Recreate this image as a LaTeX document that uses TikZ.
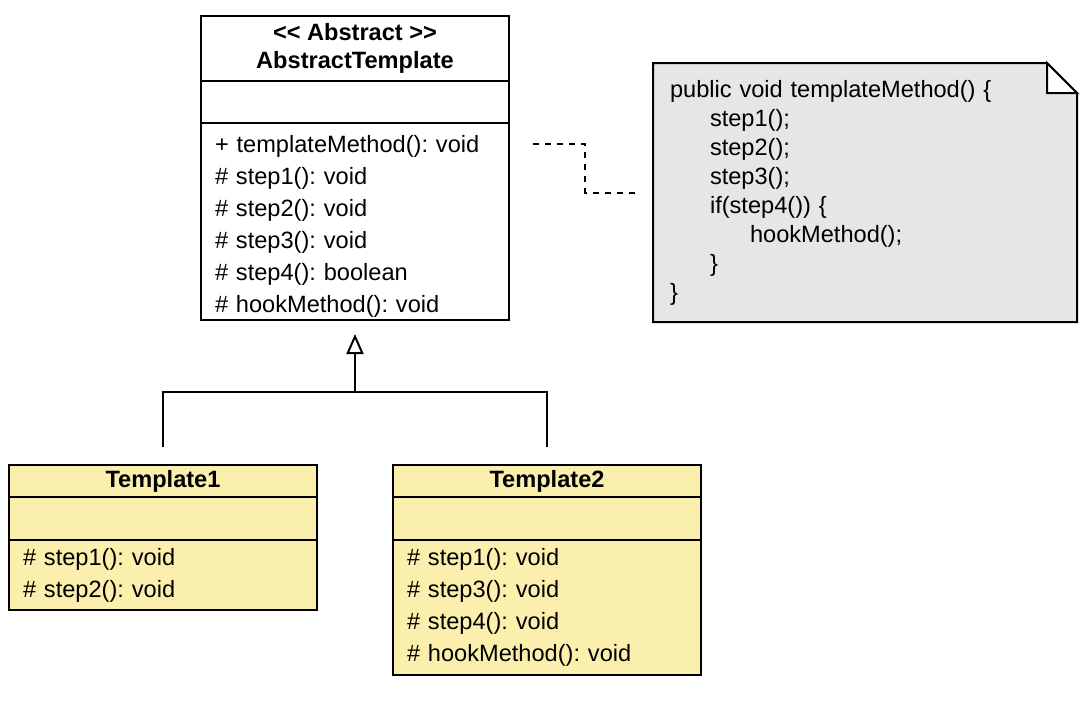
\documentclass[tikz,border=0pt]{standalone}
\usepackage{fontspec}
\setmainfont{Liberation Sans}
\usetikzlibrary{positioning,arrows.meta,backgrounds}
\definecolor{tplyellow}{HTML}{FBEFAE}
\definecolor{notegray}{HTML}{E6E6E6}
\tikzset{
  umlbox/.style={draw, line width=1pt, minimum width=154pt, inner sep=0pt, outer sep=0pt},
  umlhead/.style={umlbox, font=\bfseries\fontsize{11.8}{14}\selectfont, align=center},
  umlops/.style={umlbox, font=\fontsize{11.8}{16}\selectfont, text width=140pt, align=left},
  tpl/.style={fill=tplyellow},
  notebox/.style={inner sep=0pt, outer sep=0pt, minimum width=212pt, minimum height=129.5pt, text width=195pt, align=left, font=\fontsize{11.8}{14.5}\selectfont},
  inherit/.style={line width=1pt},
}
\newcommand{\ind}{\hspace*{20pt}}
\frenchspacing

\begin{document}
\begin{tikzpicture}[x=0.5pt, y=-0.5pt]
  \useasboundingbox (0,0) rectangle (1090,714);
  % Define nodes
  \node[umlhead, minimum height=32.5pt] (abs) at (355,48.5) {<\kern0pt< Abstract >\kern0pt>\\AbstractTemplate};
  \node[umlbox, below=0pt of abs, minimum height=21pt] (absattr) {};
  \node[umlops, below=0pt of absattr, minimum height=98.5pt] (absops) {\rule{0pt}{13.6pt}+ templateMethod(): void\\\# step1(): void\\\# step2(): void\\\# step3(): void\\\# step4(): boolean\\\# hookMethod(): void};
  \node[notebox] (note) at (865,192.5) {public void templateMethod() \{\\\ind step1();\\\ind step2();\\\ind step3();\\\ind if(step4()) \{\\\ind\ind hookMethod();\\\ind \}\\\}};

  \node[umlhead, tpl, minimum height=16pt] (tone) at (163,481) {Template1};
  \node[umlbox, tpl, below=0pt of tone, minimum height=21.5pt] (toneattr) {};
  \node[umlops, tpl, below=0pt of toneattr, minimum height=35pt] (toneops) {\# step1(): void\\\# step2(): void};
  \node[umlhead, tpl, right=38pt of tone, minimum height=16pt] (ttwo) {Template2};
  \node[umlbox, tpl, below=0pt of ttwo, minimum height=21.5pt] (ttwoattr) {};
  \node[umlops, tpl, below=0pt of ttwoattr, minimum height=67.5pt] (ttwoops) {\# step1(): void\\\# step3(): void\\\# step4(): void\\\# hookMethod(): void};

  % Note shape
  \begin{scope}[on background layer]
    \draw[line width=1pt, fill=notegray] (note.north west) -- ([xshift=-15pt]note.north east) -- ([yshift=-15pt]note.north east) -- (note.south east) -- (note.south west) -- cycle;
    \draw[line width=1pt, fill=white] ([xshift=-15pt]note.north east) |- ([yshift=-15pt]note.north east) -- cycle;
  \end{scope}

  % Connect the nodes
  \coordinate (split) at ([yshift=-36pt]absops.south);
  \coordinate (hook) at ([xshift=12pt,yshift=38.75pt]absops.east);
  \coordinate (noteend) at ([xshift=-9pt]note.west);
  \draw[inherit, shorten <=9pt] (tone.north) |- (split);
  \draw[inherit, shorten <=9pt] (ttwo.north) |- (split);
  \draw[inherit, -{Triangle[open, length=10pt, width=8.5pt]}, shorten >=7pt] (split) -- (absops.south);
  \draw[line width=1pt, dashed] (hook) -- ++(26pt,0) |- (noteend);
\end{tikzpicture}
\end{document}
